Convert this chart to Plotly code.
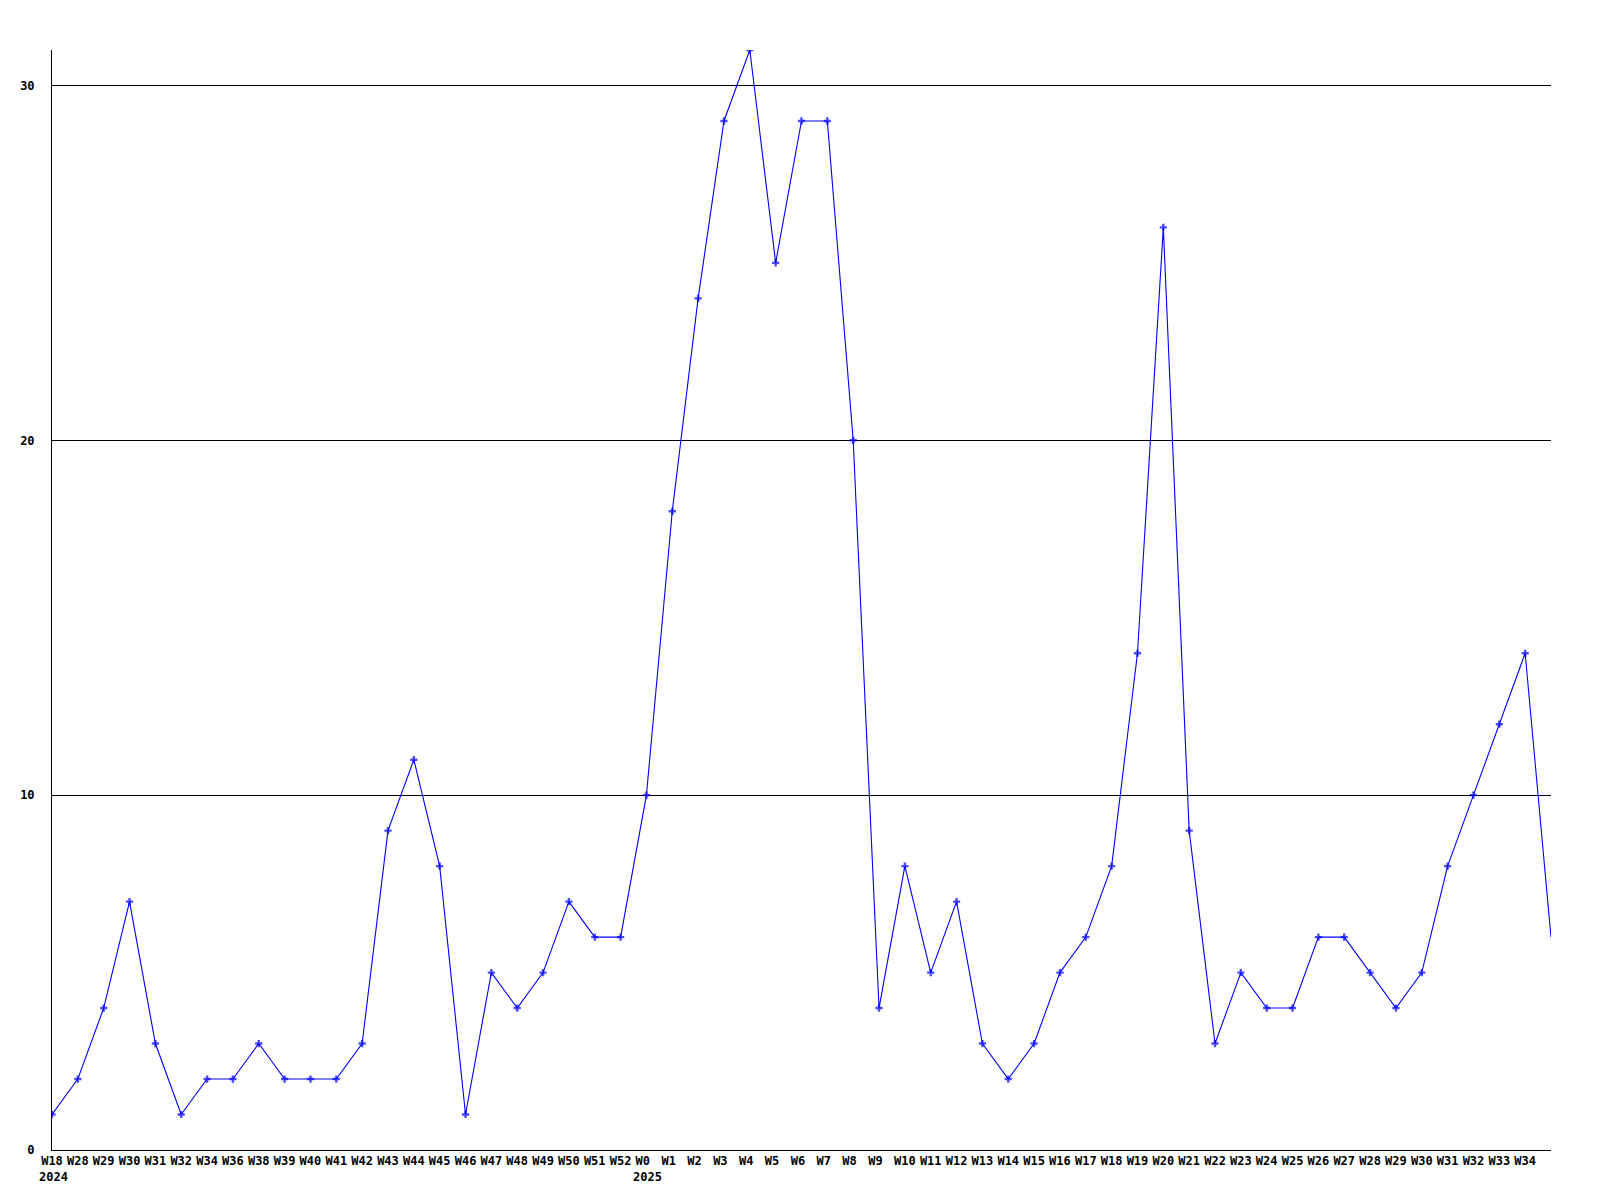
import plotly.graph_objects as go

week_labels = ["W18", "W28", "W29", "W30", "W31", "W32", "W34", "W36", "W38", "W39",
               "W40", "W41", "W42", "W43", "W44", "W45", "W46", "W47", "W48", "W49",
               "W50", "W51", "W52",
               "W0", "W1", "W2", "W3", "W4", "W5", "W6", "W7", "W8", "W9", "W10",
               "W11", "W12", "W13", "W14", "W15", "W16", "W17", "W18", "W19", "W20",
               "W21", "W22", "W23", "W24", "W25", "W26", "W27", "W28", "W29", "W30",
               "W31", "W32", "W33", "W34"]
year_positions = [0, 23]
year_labels = ["2024", "2025"]
values = [1, 2, 4, 7, 3, 1, 2, 2, 3, 2,
          2, 2, 3, 9, 11, 8, 1, 5, 4, 5,
          7, 6, 6,
          10, 18, 24, 29, 31, 25, 29, 29, 20, 4, 8,
          5, 7, 3, 2, 3, 5, 6, 8, 14, 26,
          9, 3, 5, 4, 4, 6, 6, 5, 4, 5,
          8, 10, 12, 14,
          6]
y_ticks = [0, 10, 20, 30]

xs = list(range(len(values)))
# labels are left-aligned in the source: pad to 3 monospace characters
ticktext = [lab + "\u00a0" * (3 - len(lab)) for lab in week_labels]
marker_sizes = [6] * (len(values) - 1) + [0]

font_family = "DejaVu Sans Mono"
tick_font = dict(family=font_family, size=12, color="black", weight="bold")

fig = go.Figure()
fig.add_trace(go.Scatter(
    x=xs, y=values, mode="lines+markers",
    line=dict(color="#0000ff", width=1.1),
    marker=dict(symbol="cross", size=marker_sizes, color="#0000ff", line=dict(width=0)),
    showlegend=False, hoverinfo="skip",
))

for pos, yl in zip(year_positions, year_labels):
    fig.add_annotation(
        x=pos, xref="x", y=0, yref="paper",
        text=yl, showarrow=False,
        xanchor="left", yanchor="top", xshift=-15, yshift=-18,
        font=tick_font,
    )

fig.update_layout(
    width=1600, height=1200,
    margin=dict(l=42, r=57, t=42, b=58, pad=0),
    paper_bgcolor="white", plot_bgcolor="white",
    xaxis=dict(
        range=[0, len(values) - 1],
        tickmode="array", tickvals=list(range(len(week_labels))), ticktext=ticktext,
        showgrid=False, zeroline=False,
        showline=True, linecolor="black", linewidth=1,
        ticks="", tickfont=tick_font, tickangle=0,
        fixedrange=True,
    ),
    yaxis=dict(
        range=[0, 31],
        tickmode="array", tickvals=y_ticks, ticktext=[str(v) for v in y_ticks],
        showgrid=True, gridcolor="black", gridwidth=1,
        zeroline=False,
        showline=True, linecolor="black", linewidth=1,
        ticks="", tickfont=tick_font, ticklabelstandoff=14,
        fixedrange=True,
    ),
)

fig.write_html("out.html")
